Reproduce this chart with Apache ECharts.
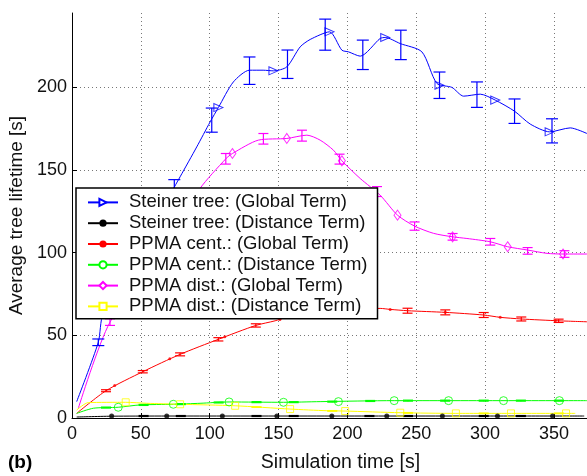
<!DOCTYPE html>
<html><head><meta charset="utf-8">
<script src="https://cdn.jsdelivr.net/npm/echarts@6/dist/echarts.min.js"></script>
<style>html,body{margin:0;padding:0;background:#fff}#c{width:587px;height:476px}</style>
</head><body><div id="c"></div>
<script>
// ---- data (x = simulation time [s], y = average tree lifetime [s]) ----
const seriesNames = ['Steiner tree: (Global Term)','Steiner tree: (Distance Term)','PPMA cent.: (Global Term)','PPMA cent.: (Distance Term)','PPMA dist.: (Global Term)','PPMA dist.: (Distance Term)'];

const steinerGlobalLine = [[3.4,9.9],[19.1,45.8],[22.7,63.3],[74.3,139.7],[78.5,145.9],[90.6,164],[100.3,179.1],[106.3,187.8],[117.2,203.3],[128.9,210.4],[138.8,210.4],[146.3,210],[156,212.4],[165.7,224.5],[173,229],[187,233.6],[196,222.5],[200.8,221.5],[209.3,218.9],[223.8,229.6],[227.5,230.2],[238.4,226.5],[254.1,221.5],[265,202.4],[275.9,200],[284.4,194.7],[296.5,195.9],[307.4,192.3],[321.4,185.6],[332.8,177.8],[346.9,173.1],[361.9,175.5],[374,172.1]];
const steinerGlobalMarks = [[106.3,187.8],[146.3,210],[187,233.6],[227.5,230.2],[266.9,201.3],[307.4,192.3],[346.9,173.1]];
const steinerGlobalErr = [[19.1,45.8,2],[74.3,139.7,4.5],[101.5,180.2,7.3],[128.9,210.1,8.3],[156.5,214,8.6],[183.9,231.9,9.4],[211.2,219.7,8.9],[238.8,225.7,8.9],[266.9,201.3,8],[294.1,195.6,7.7],[321.4,185.6,7.4],[348.6,173.7,7.3]];

const steinerDistLine = [[3.4,0.6],[30,1.1],[100,1.2],[200,1.2],[300,1.2],[372,1.2]];
const steinerDistMarks = [[28.8,1.2],[68.8,1.2],[109.2,1.2],[148.8,1.2],[188.7,1.2],[228.6,1.2],[269,1.2],[309,1.2],[349,1.2]];
const steinerDistErr = [[52,1.2,0.3],[79,1.2,0.3],[134,1.2,0.3],[161,1.2,0.3],[216,1.2,0.3],[244,1.2,0.3],[299,1.2,0.3],[326,1.2,0.3]];

const ppmaCentGlobalLine = [[3.4,2.8],[24.7,16.5],[51.4,28],[78.5,38.5],[106.3,47.6],[133.5,56],[147.5,58.8],[165.7,63.5],[223.8,66.3],[231.1,65.7],[243.7,64.9],[271.1,63.9],[299,62.3],[311,60.9],[326.3,59.9],[353.4,58.8],[374,58.2]];
const ppmaCentGlobalMarks = [[31,19.6],[71,35.9],[111,49.1],[151,59.6],[231.1,65.7],[271.1,63.9],[311,60.9],[351,58.9]];
const ppmaCentGlobalErr = [[24.7,16.5,0.6],[51.4,28,0.7],[78.5,38.5,0.9],[106.3,47.6,1],[133.5,56,1],[243.7,64.9,1.5],[271.1,63.9,1.5],[299,62.3,1.5],[326.3,59.9,1.2],[353.4,58.8,1]];

const ppmaCentDistLine = [[3.4,2.8],[15.5,5.9],[33.6,6.5],[49.4,7.9],[73.6,8.3],[93,8.9],[114.1,9.7],[153.6,9.5],[180.2,9.9],[234,10.5],[374,10.5]];
const ppmaCentDistMarks = [[33.6,6.5],[73.6,8.3],[114.1,9.7],[153.6,9.5],[193.5,9.9],[234,10.5],[273.5,10.5],[313.4,10.5],[354,10.5]];
const ppmaCentDistErr = [[24.7,6.3,0.3],[52,7.9,0.3],[79,8.4,0.3],[106.5,9.4,0.3],[134,9.6,0.3],[161,9.6,0.3],[189,9.9,0.3],[216.6,10.3,0.3],[244,10.5,0.3],[271,10.5,0.3],[299,10.5,0.3],[326,10.5,0.3],[353.6,10.5,0.3]];

const ppmaDistGlobalLine = [[4.6,5.9],[27.6,58],[93,138.9],[111.7,156.8],[116.5,160],[135.4,168.1],[156,169.1],[170.6,171.1],[180.2,168.1],[189.9,162],[196,155.6],[209.3,144.9],[223.8,134.8],[236.4,122.7],[248.8,116.1],[262.6,111.7],[276.4,109.6],[286.8,108.6],[303.8,106.6],[316.4,103.6],[330.9,101.6],[345,99.6],[356.6,99.2],[374,99.2]];
const ppmaDistGlobalMarks = [[116.5,160],[156,169.1],[196,155.6],[236.4,122.7],[276.4,109.6],[316.4,103.6],[356.6,99.2]];
const ppmaDistGlobalErr = [[27.6,58,2],[111.7,156.8,3.2],[139,168.9,3.2],[167,170.8,3.3],[194.3,156.6,3],[221.5,137,3],[248.8,116.1,2.5],[276.4,109.6,2],[303.8,106.6,2],[330.9,101.1,2],[357.6,99.2,2]];

const ppmaDistDistLine = [[3.4,4.8],[11.8,9.3],[39,9.5],[54.3,8.9],[78.5,8.3],[118.5,7.4],[158.4,5.4],[185.1,4.4],[198.4,4.2],[238.4,3.2],[278.8,2.8],[365.5,2.8]];
const ppmaDistDistMarks = [[39,9.5],[78.5,8.3],[118.5,7.4],[158.4,5.4],[198.4,4.2],[238.4,3.2],[278.8,2.8],[318.8,2.8],[358.8,2.8]];
const ppmaDistDistErr = [[134,6.6,0.2],[189,4.3,0.2],[244,3.1,0.2],[299,2.8,0.2],[353.6,2.8,0.2]];

const xTickInterval = 50, yTickInterval = 50;

// ---- chart ----
const FONT = 'Liberation Sans, Arial, Helvetica, sans-serif';
const colors = ['#0000ff','#000000','#ff0000','#00ff00','#ff00ff','#ffff00'];

function errRender(color, hw) {
  return function (params, api) {
    const x = api.value(0), y = api.value(1), e = api.value(2);
    const hi = api.coord([x, y + e]), lo = api.coord([x, y - e]);
    const st = { stroke: color, lineWidth: 1.2 };
    return { type: 'group', children: [
      { type: 'line', shape: { x1: hi[0], y1: hi[1], x2: lo[0], y2: lo[1] }, style: st },
      { type: 'line', shape: { x1: hi[0] - hw, y1: hi[1], x2: hi[0] + hw, y2: hi[1] }, style: st },
      { type: 'line', shape: { x1: lo[0] - hw, y1: lo[1], x2: lo[0] + hw, y2: lo[1] }, style: st }
    ]};
  };
}

const defs = [
  { line: steinerGlobalLine, marks: steinerGlobalMarks, err: steinerGlobalErr, symbol: 'triangle', rot: -90, size: [8, 9], hollow: true, cap: 6 },
  { line: steinerDistLine, marks: steinerDistMarks, err: steinerDistErr, symbol: 'circle', rot: 0, size: 5, hollow: false, cap: 5 },
  { line: ppmaCentGlobalLine, marks: ppmaCentGlobalMarks, err: ppmaCentGlobalErr, symbol: 'circle', rot: 0, size: 3, hollow: false, cap: 5 },
  { line: ppmaCentDistLine, marks: ppmaCentDistMarks, err: ppmaCentDistErr, symbol: 'circle', rot: 0, size: 8, hollow: true, cap: 5 },
  { line: ppmaDistGlobalLine, marks: ppmaDistGlobalMarks, err: ppmaDistGlobalErr, symbol: 'diamond', rot: 0, size: [7, 10], hollow: true, cap: 5 },
  { line: ppmaDistDistLine, marks: ppmaDistDistMarks, err: ppmaDistDistErr, symbol: 'rect', rot: 0, size: 7, hollow: true, cap: 5 }
];

const series = [];
defs.forEach((d, i) => {
  const c = colors[i];
  const itemStyle = d.hollow ? { color: '#fff', borderColor: c, borderWidth: 1 } : { color: c };
  series.push({
    name: seriesNames[i], type: 'line', data: d.line, smooth: 0.25, showSymbol: false,
    symbol: d.symbol, symbolRotate: d.rot, symbolSize: d.size,
    lineStyle: { color: c, width: 1 }, itemStyle: itemStyle, z: 2, silent: true
  });
  series.push({
    type: 'scatter', data: d.marks, symbol: d.symbol, symbolRotate: d.rot, symbolSize: d.size,
    itemStyle: d.hollow ? { color: 'rgba(0,0,0,0)', borderColor: c, borderWidth: 1 } : { color: c }, z: 3, silent: true
  });
  series.push({
    type: 'custom', data: d.err, renderItem: errRender(c, d.cap), encode: { x: 0, y: 1 }, z: 3, silent: true
  });
});

const chart = echarts.init(document.getElementById('c'), null, { renderer: 'canvas' });
chart.setOption({
  animation: false,
  backgroundColor: '#fff',
  textStyle: { fontFamily: FONT },
  graphic: [{ type: 'text', left: 8, top: 453, style: { text: '(b)', font: 'bold 19px ' + FONT, fill: '#000' } }],
  grid: { left: 72, top: 13, bottom: 58, right: -22, outerBoundsMode: 'none', containLabel: false },
  legend: {
    data: seriesNames, orient: 'vertical', left: 76, top: 188,
    backgroundColor: '#fff', borderColor: '#000', borderWidth: 1.5, borderRadius: 0,
    padding: [4, 10, 2, 11], itemWidth: 30, itemHeight: 9, itemGap: 0,
    textStyle: { fontFamily: FONT, fontSize: 18.5, lineHeight: 20.8, color: '#111', padding: [0, 0, 0, 6] }
  },
  xAxis: {
    type: 'value', min: 0, max: 390, interval: xTickInterval,
    name: 'Simulation time [s]', nameLocation: 'middle', nameGap: 35,
    nameTextStyle: { fontFamily: FONT, fontSize: 19.5, color: '#111' },
    axisLine: { lineStyle: { color: '#000', width: 1 } },
    axisTick: { inside: true, length: 5, lineStyle: { color: '#000' } },
    axisLabel: { fontFamily: FONT, fontSize: 18, color: '#111', margin: 7, showMaxLabel: false },
    splitLine: { show: true, showMinLine: false, showMaxLine: false, lineStyle: { color: '#777', type: [1, 3], width: 1 } }
  },
  yAxis: {
    type: 'value', min: 0, max: 245, interval: yTickInterval,
    name: 'Average tree lifetime [s]', nameLocation: 'middle', nameGap: 39,
    nameTextStyle: { fontFamily: FONT, fontSize: 19, color: '#111' },
    axisLine: { show: true, lineStyle: { color: '#000', width: 1 } },
    axisTick: { show: true, inside: true, length: 5, lineStyle: { color: '#000' } },
    axisLabel: { fontFamily: FONT, fontSize: 18, color: '#111', margin: 5, showMaxLabel: false },
    splitLine: { show: true, showMinLine: false, showMaxLine: false, lineStyle: { color: '#777', type: [1, 3], width: 1 } }
  },
  series: series
});
</script></body></html>
